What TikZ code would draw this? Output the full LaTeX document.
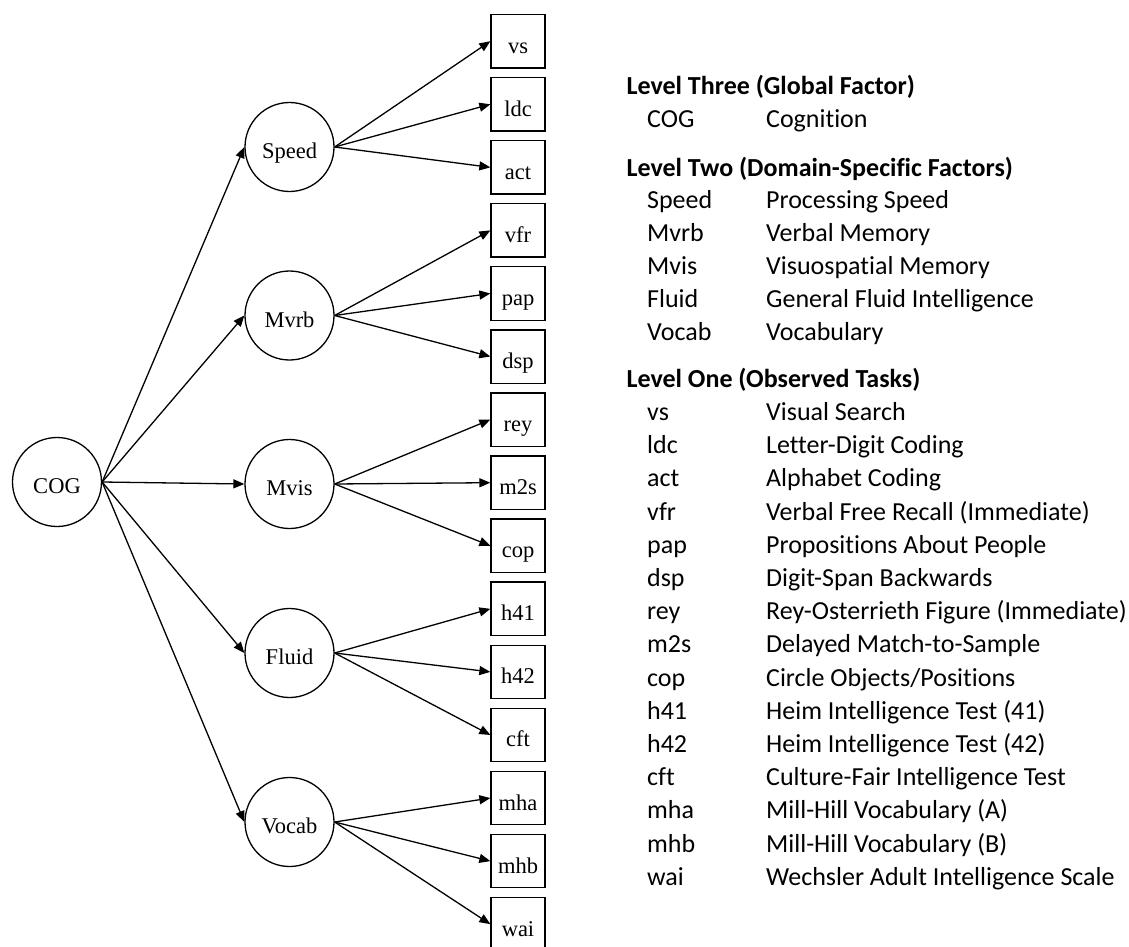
\documentclass[tikz,border=0pt]{standalone}
\usepackage{fontspec}
\setmainfont{Liberation Serif}
\newfontfamily\legendfont[Ligatures = NoCommon]{Carlito}
\usetikzlibrary{positioning}
\usetikzlibrary{arrows.meta}

\tikzset{
	factor/.style = {draw, circle, minimum size = 89pt, inner sep = 0pt, text height = 23pt, text depth = 0pt, font = \fontsize{22.5}{27}\selectfont},
	task/.style = {draw, rectangle, minimum width = 54pt, minimum height = 53.4pt, inner sep = 0pt, text height = 24pt, text depth = 0pt, font = \fontsize{22.5}{27}\selectfont},
	link/.style = {black, line width = 1.3pt, -{Triangle[length = 11pt, width = 9pt]}},
	legendhead/.style = {anchor = base west, inner sep = 0pt, font = \legendfont\bfseries\fontsize{26}{31}\selectfont},
	legendtext/.style = {anchor = base west, inner sep = 0pt, font = \legendfont\fontsize{26}{31}\selectfont}
}

\begin{document}
\begin{tikzpicture}[x = 1pt, y = -1pt, line width = 1.3pt]
	\useasboundingbox (0, 0) rectangle (1129, 947);
	% factors
	\node [factor] (cog) at (57, 482) {COG};
	\node [factor] (speed) at (289.5, 147) {Speed};
	\node [factor] (mvrb) at (289.5, 315.5) {Mvrb};
	\node [factor] (mvis) at (289.5, 484) {Mvis};
	\node [factor] (fluid) at (289.5, 653) {Fluid};
	\node [factor] (vocab) at (289.5, 822) {Vocab};
	% observed tasks
	\foreach \name [count = \i from 0] in {vs, ldc, act, vfr, pap, dsp, rey, m2s, cop, h41, h42, cft, mha, mhb, wai}
		\node [task] (\name) at (518, {41.2 + 63.07 * \i}) {\name};
	% loadings
	\foreach \f in {speed, mvrb, mvis, fluid, vocab}
		\draw [link] (cog.east) -- (\f.west);
	\foreach \f/\t in {speed/vs, speed/ldc, speed/act, mvrb/vfr, mvrb/pap, mvrb/dsp, mvis/rey, mvis/m2s, mvis/cop, fluid/h41, fluid/h42, fluid/cft, vocab/mha, vocab/mhb, vocab/wai}
		\draw [link] (\f.east) -- (\t.west);
	% legend
	\node [legendhead] (head3) at (626, 95) {Level Three (Global Factor)};
	\node [legendtext] (a-cog) at (646.5, 128) {COG};
	\node [legendtext] (b-cog) at (765.5, 128) {Cognition};
	\node [legendhead] (head2) at (626, 176) {Level Two (Domain-Specific Factors)};
	\foreach \abbr/\full [count = \i from 0] in {Speed/Processing Speed, Mvrb/Verbal Memory, Mvis/Visuospatial Memory, Fluid/General Fluid Intelligence, Vocab/Vocabulary} {
		\node [legendtext] (a-\abbr) at (646.5, {208 + 33 * \i}) {\abbr};
		\node [legendtext] (b-\abbr) at (765.5, {208 + 33 * \i}) {\full};
	}
	\node [legendhead] (head1) at (626, 387) {Level One (Observed Tasks)};
	\foreach \abbr/\full [count = \i from 0] in {vs/Visual Search, ldc/Letter-Digit Coding, act/Alphabet Coding, vfr/Verbal Free Recall (Immediate), pap/Propositions About People, dsp/Digit-Span Backwards, rey/Rey-Osterrieth Figure (Immediate), m2s/Delayed Match-to-Sample, cop/{Circle Objects/Positions}, h41/Heim Intelligence Test (41), h42/Heim Intelligence Test (42), cft/Culture-Fair Intelligence Test, mha/Mill-Hill Vocabulary (A), mhb/Mill-Hill Vocabulary (B), wai/Wechsler Adult Intelligence Scale} {
		\node [legendtext] (a-\abbr) at (646.5, {420.4 + 33.2 * \i}) {\abbr};
		\node [legendtext] (b-\abbr) at (765.5, {420.4 + 33.2 * \i}) {\full};
	}
\end{tikzpicture}
\end{document}
